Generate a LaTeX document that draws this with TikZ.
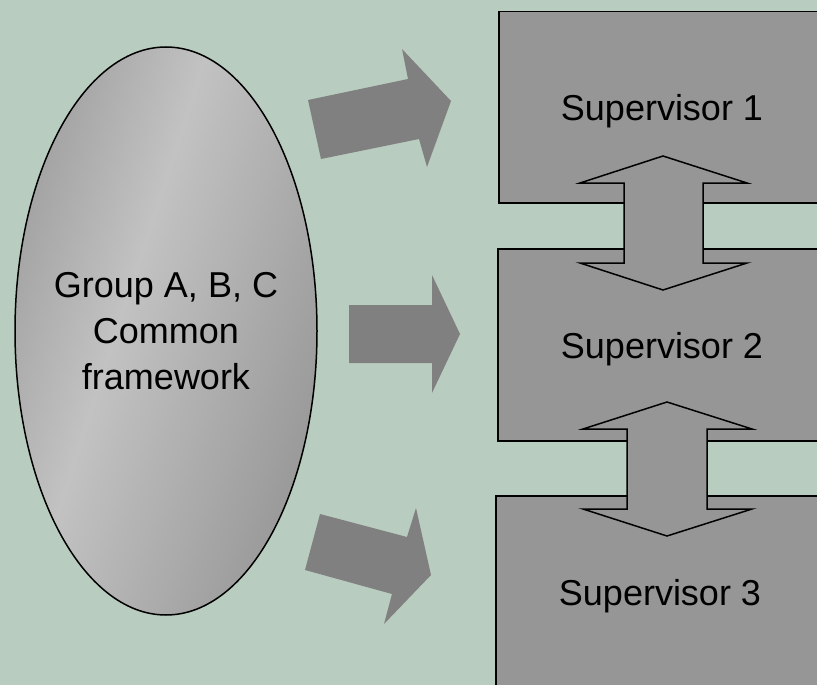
\documentclass[tikz,border=0pt]{standalone}
\usepackage{fontspec}
\setmainfont{Liberation Sans}
\usetikzlibrary{shapes.geometric}
\definecolor{bg}{RGB}{185,204,192}
\definecolor{boxgray}{RGB}{150,150,150}
\definecolor{arrgray}{RGB}{128,128,128}
\definecolor{elldark}{RGB}{122,122,122}
\definecolor{elllight}{RGB}{194,194,194}
\pgfdeclarehorizontalshading{ellshade}{100bp}{color(0bp)=(elldark); color(43bp)=(elllight); color(100bp)=(elldark)}
\begin{document}
\begin{tikzpicture}[x=1pt,y=-1pt,
  lbl/.style={font=\fontsize{36}{46}\selectfont, inner sep=0pt},
  supbox/.style={draw=black, line width=1.5pt, fill=boxgray, rectangle, inner sep=0pt, anchor=north west},
  blockarrow/.style={fill=arrgray, draw=none},
  dblarrow/.style={draw=black, line width=1.5pt, fill=boxgray, line join=miter}]
\fill[bg] (0,0) rectangle (817,685);
\useasboundingbox (0,0) rectangle (817,685);
\begin{scope}
\clip (0,0) rectangle (817,685);
% ellipse shading
\begin{scope}
\clip (166,331) ellipse [x radius=151, y radius=284];
\begin{scope}[transform canvas={rotate around={-18:(166,331)}}]
\shade[shading=ellshade] (-4,-80) rectangle (336,742);
\end{scope}
\end{scope}
% ellipse
\node[ellipse, draw=black, line width=1.5pt, minimum width=302pt, minimum height=568pt,
  inner sep=0pt] (grp) at (166,331) {};
\node[lbl, align=center] (grptxt) at (grp.center) {Group A, B, C\\Common\\framework};
% block arrows
\fill[blockarrow] (308,100) -- (408,79) -- (402,49) -- (451,101) -- (427,167) -- (419,139) -- (321,159) -- cycle;
\fill[blockarrow] (349,305) -- (432,305) -- (432,275) -- (460,334) -- (432,393) -- (432,363) -- (349,363) -- cycle;
\fill[blockarrow] (320,514) -- (407,537) -- (416,508) -- (431,575) -- (384,624) -- (392,594) -- (305,570) -- cycle;
% supervisor boxes
\node[supbox, minimum width=340pt, minimum height=191pt] (b1) at (498,11) {};
\node[supbox, minimum width=340pt, minimum height=192pt] (b2) at (497,248) {};
\node[supbox, minimum width=340pt, minimum height=230pt] (b3) at (495,495) {};
% double arrows
\draw[dblarrow] (663,156) -- (747,183) -- (703,183) -- (703,263) -- (747,263) -- (663,290)
  -- (580,263) -- (624,263) -- (624,183) -- (580,183) -- cycle;
\draw[dblarrow] (667,402) -- (752,429) -- (707,429) -- (707,509) -- (752,509) -- (667,536)
  -- (583,509) -- (627,509) -- (627,429) -- (583,429) -- cycle;
% labels
\node[lbl, anchor=base] (t1) at (662,121) {Supervisor 1};
\node[lbl, anchor=base] (t2) at (662,358) {Supervisor 2};
\node[lbl, anchor=base] (t3) at (660,605) {Supervisor 3};
\end{scope}
\end{tikzpicture}
\end{document}
